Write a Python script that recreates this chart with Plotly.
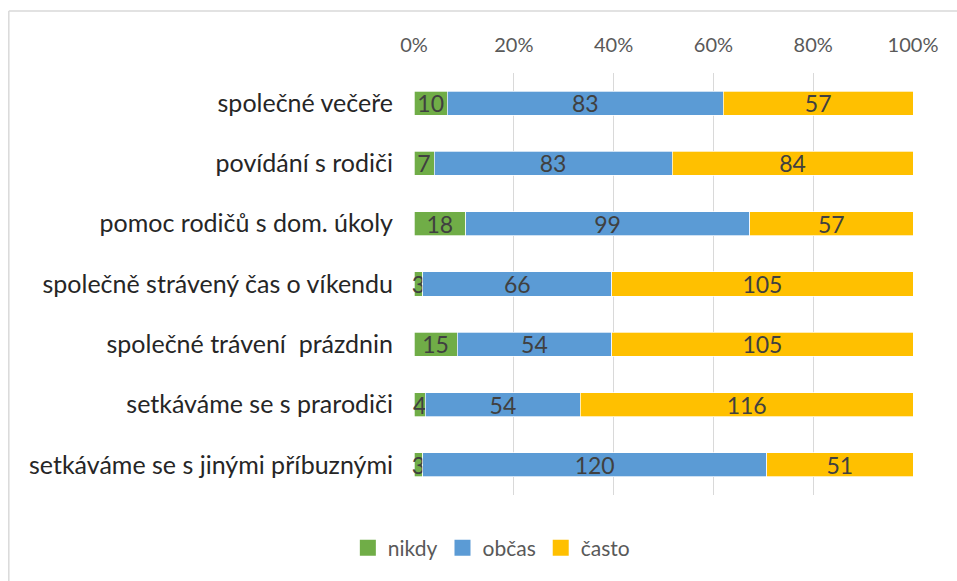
import plotly.graph_objects as go

categories = [
    "společné večeře",
    "povídání s rodiči",
    "pomoc rodičů s dom. úkoly",
    "společně strávený čas o víkendu",
    "společné trávení  prázdnin",
    "setkáváme se s prarodiči",
    "setkáváme se s jinými příbuznými",
]
nikdy = [10, 7, 18, 3, 15, 4, 3]
obcas = [83, 83, 99, 66, 54, 54, 120]
casto = [57, 84, 57, 105, 105, 116, 51]

series = [
    ("nikdy", nikdy, "#70ad47"),
    ("občas", obcas, "#5b9bd5"),
    ("často", casto, "#ffc000"),
]

FONT = "Lato, Carlito, Calibri, sans-serif"

fig = go.Figure()
for name, vals, color in series:
    fig.add_trace(go.Bar(
        y=categories, x=vals, name=name, orientation="h",
        marker=dict(color=color, line=dict(color="white", width=0.7)),
        text=[str(v) for v in vals], texttemplate="%{text}",
        textposition="inside", insidetextanchor="middle", textangle=0,
        textfont=dict(size=23, color="#404040", family=FONT),
        constraintext="none", cliponaxis=False,
        hoverinfo="skip", showlegend=False,
    ))
# legend entries with larger square symbols
for name, vals, color in series:
    fig.add_trace(go.Scatter(
        x=[None], y=[None], mode="markers", name=name,
        marker=dict(symbol="square", size=16, color=color),
        hoverinfo="skip", showlegend=True,
    ))

fig.update_layout(
    barmode="stack", barnorm="percent", bargap=0.6,
    width=957, height=581,
    margin=dict(l=414, r=44, t=73, b=86),
    plot_bgcolor="white", paper_bgcolor="white",
    font=dict(family=FONT, size=20, color="#595959"),
    uniformtext=dict(minsize=23, mode="show"),
    xaxis=dict(
        side="top", range=[0, 100], tickvals=[0, 20, 40, 60, 80, 100],
        ticktext=["0%", "20%", "40%", "60%", "80%", "100%"],
        showgrid=True, gridcolor="#d9d9d9", gridwidth=1,
        zeroline=False, showline=False, ticks="",
        ticklabelstandoff=16,
        tickfont=dict(size=20, color="#595959"),
    ),
    yaxis=dict(
        autorange="reversed", categoryorder="array", categoryarray=categories,
        showgrid=False, zeroline=False, showline=False, ticks="",
        ticklabelstandoff=20,
        tickfont=dict(size=25, color="#262626"),
    ),
    legend=dict(
        orientation="h", x=0.155, xanchor="center", y=-0.1256, yanchor="middle",
        font=dict(size=21, color="#595959"), traceorder="normal",
        itemwidth=30, itemsizing="trace",
    ),
    shapes=[
        dict(type="line", xref="paper", yref="paper",
             x0=-0.812, x1=1.3, y0=1.147, y1=1.147,
             line=dict(color="#d9d9d9", width=1.5), layer="below"),
        dict(type="line", xref="paper", yref="paper",
             x0=-0.812, x1=-0.812, y0=-0.3, y1=1.147,
             line=dict(color="#d9d9d9", width=1.5), layer="below"),
    ],
)

fig.write_html(
    "out.html",
    config={"displayModeBar": False},
    post_script="document.body.style.margin='0px';document.body.style.overflow='hidden';",
)
